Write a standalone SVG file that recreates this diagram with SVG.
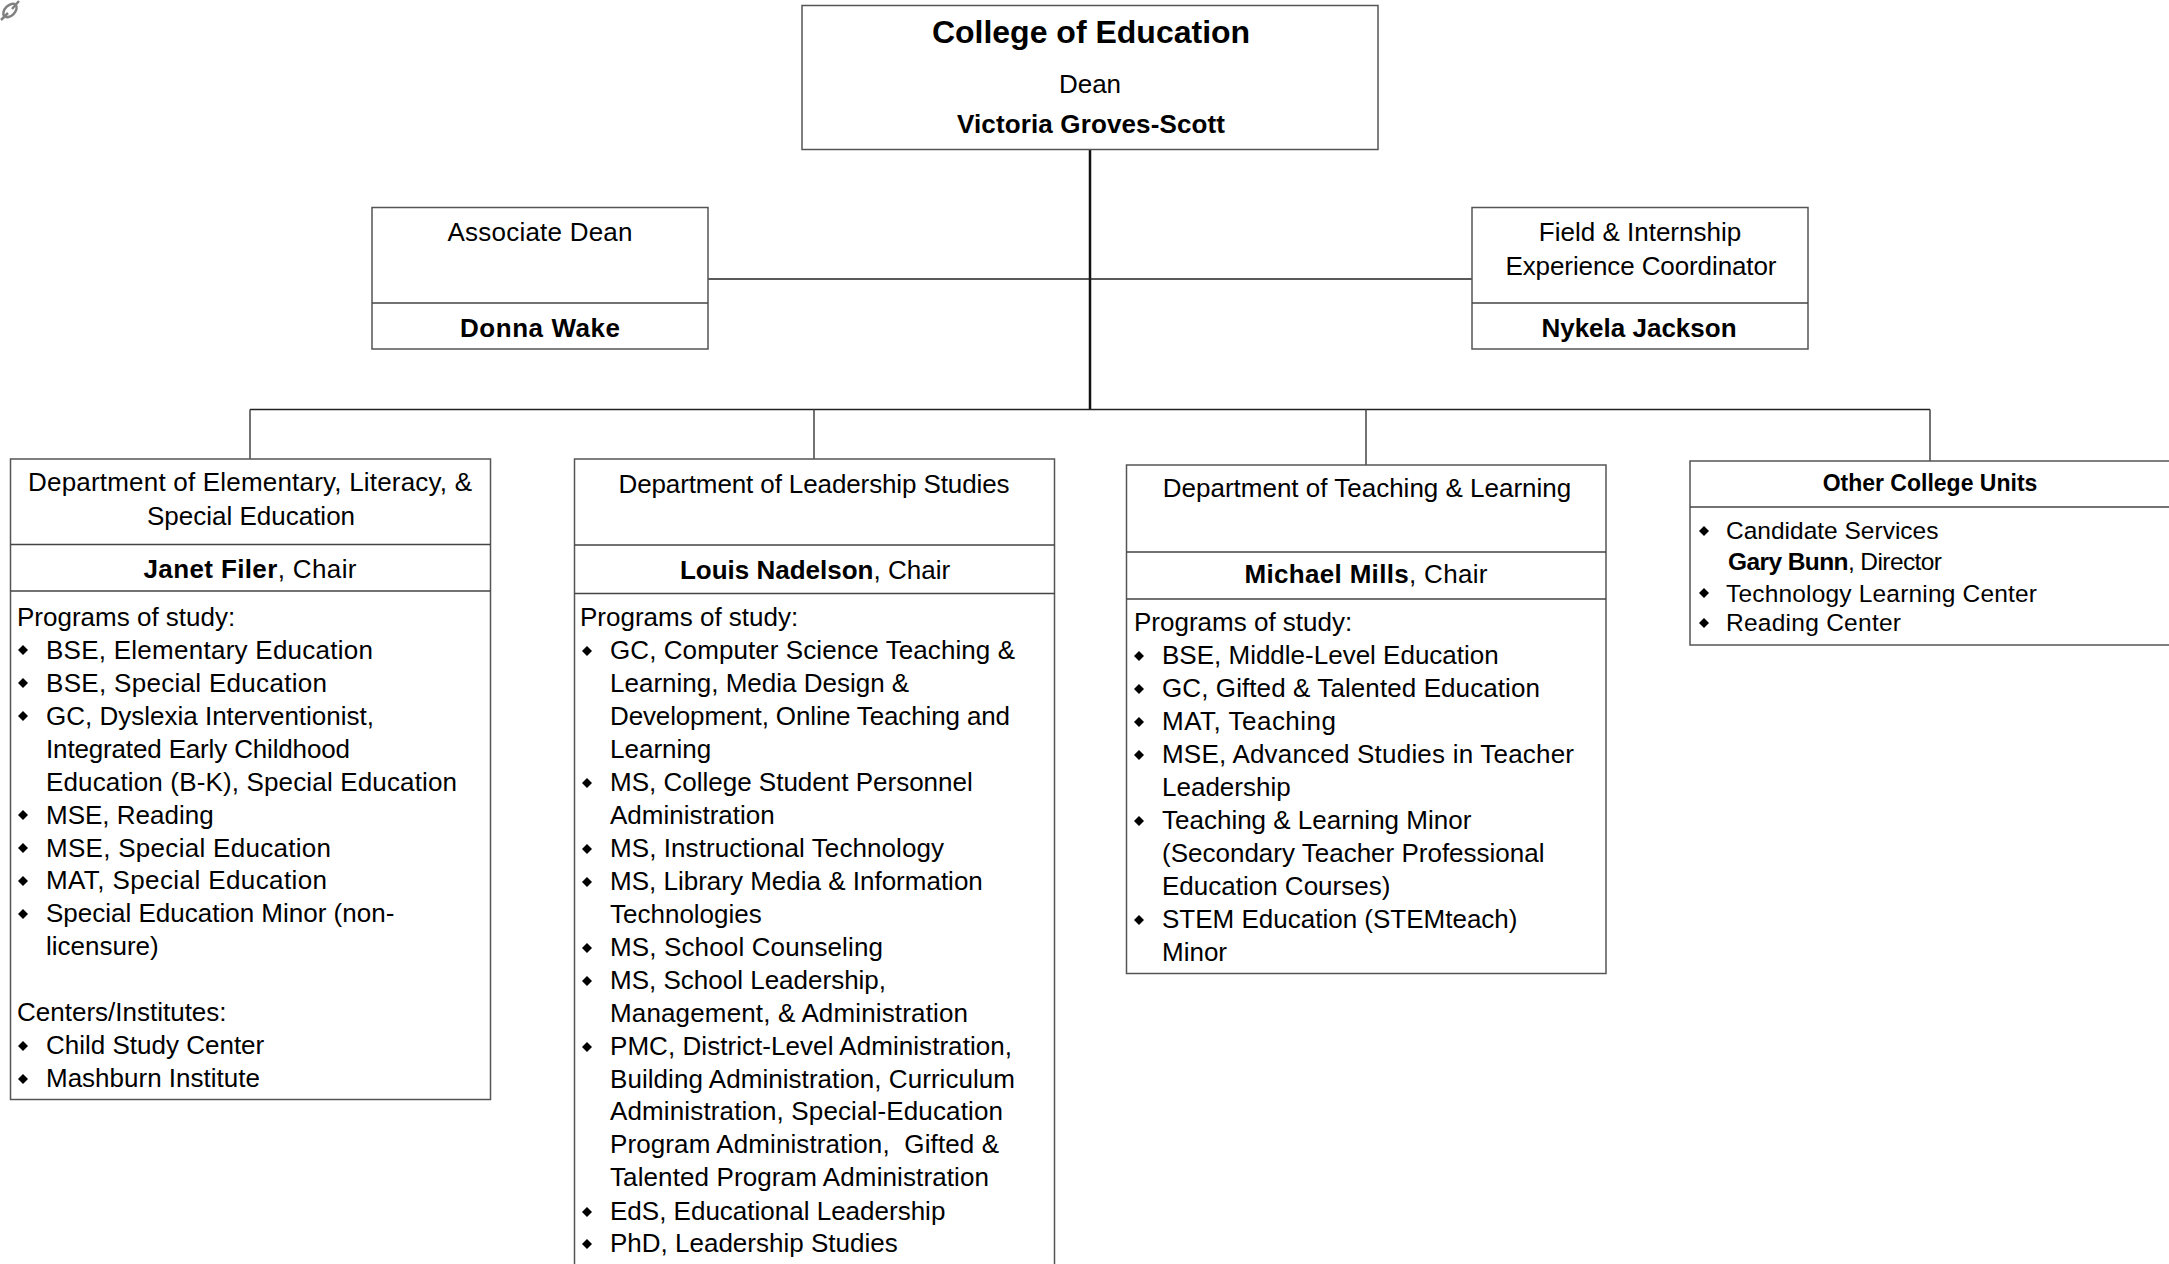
<svg xmlns="http://www.w3.org/2000/svg" width="2169" height="1264" viewBox="0 0 2169 1264">
<style>
text{font-family:"Liberation Sans",Arial,sans-serif;font-size:26px;fill:#000;white-space:pre}
.c{text-anchor:middle}
.b,tspan.b{font-weight:700}
.box{fill:#fff;stroke:#555;stroke-width:1.5}
.div{stroke:#444;stroke-width:1.5;fill:none}
.s{font-size:24.5px}
.conn{stroke:#444;stroke-width:1.5;fill:none}
.main{stroke:#111;stroke-width:2.5;fill:none}
.thin{stroke:#222;stroke-width:1.5;fill:none}
.icon{fill:none;stroke:#808080;stroke-width:2.5}
</style>
<defs><path id="d" d="M-5 0L0-5L5 0L0 5Z" fill="#000"/></defs>
<g id="link-icon"><path class="icon" d="M1 20L8 13M12 9L19 1"/><ellipse class="icon" cx="10" cy="10.500" rx="8" ry="5" transform="rotate(-45 10 10.500)"/></g>
<g id="connectors">
<path class="main" d="M1090 149V409"/>
<path class="thin" d="M708 279H1472"/>
<path class="thin" d="M250 409.500H1930"/>
<path class="conn" d="M250 409.500V459M814 409.500V459M1366 409.500V465M1930 409.500V461"/>
</g>
<g id="dean">
<rect class="box" x="802" y="5.500" width="576" height="144"/>
<text class="c b" x="1091" y="43" style="font-size:32px">College of Education</text>
<text class="c" x="1090" y="93">Dean</text>
<text class="c b" x="1091" y="133" textLength="268">Victoria Groves-Scott</text>
</g>
<g id="associate-dean">
<rect class="box" x="372" y="207.500" width="336" height="141.500"/>
<path class="div" d="M372 303H708"/>
<text class="c" x="540" y="241" textLength="185">Associate Dean</text>
<text class="c b" x="540" y="337" textLength="160">Donna Wake</text>
</g>
<g id="field-coordinator">
<rect class="box" x="1472" y="207.500" width="336" height="141.500"/>
<path class="div" d="M1472 303H1808"/>
<text class="c" x="1640" y="241">Field &amp; Internship</text>
<text class="c" x="1641" y="275" textLength="271">Experience Coordinator</text>
<text class="c b" x="1639" y="337">Nykela Jackson</text>
</g>
<g id="dept-elementary">
<rect class="box" x="10.500" y="459" width="480" height="640.500"/>
<path class="div" d="M10.500 544.500H490.500M10.500 591H490.500"/>
<text class="c" x="250" y="491" textLength="444">Department of Elementary, Literacy, &amp;</text>
<text class="c" x="251" y="525">Special Education</text>
<text class="c" x="250" y="578" textLength="213"><tspan class="b">Janet Filer</tspan>, Chair</text>
<text x="17" y="626">Programs of study:</text>
<use href="#d" x="23" y="650"/><text x="46" y="659" textLength="327">BSE, Elementary Education</text>
<use href="#d" x="23" y="683"/><text x="46" y="692" textLength="281">BSE, Special Education</text>
<use href="#d" x="23" y="716"/><text x="46" y="725">GC, Dyslexia Interventionist,</text>
<text x="46" y="758" textLength="304">Integrated Early Childhood</text>
<text x="46" y="791" textLength="411">Education (B-K), Special Education</text>
<use href="#d" x="23" y="815"/><text x="46" y="824">MSE, Reading</text>
<use href="#d" x="23" y="848"/><text x="46" y="857" textLength="285">MSE, Special Education</text>
<use href="#d" x="23" y="881"/><text x="46" y="889" textLength="281">MAT, Special Education</text>
<use href="#d" x="23" y="914"/><text x="46" y="922">Special Education Minor (non-</text>
<text x="46" y="955">licensure)</text>
<text x="17" y="1021">Centers/Institutes:</text>
<use href="#d" x="23" y="1046"/><text x="46" y="1054">Child Study Center</text>
<use href="#d" x="23" y="1079"/><text x="46" y="1087">Mashburn Institute</text>
</g>
<g id="dept-leadership">
<rect class="box" x="574.500" y="459" width="480" height="820"/>
<path class="div" d="M574.500 545H1054.500M574.500 593.500H1054.500"/>
<text class="c" x="814" y="493" textLength="391">Department of Leadership Studies</text>
<text class="c" x="815" y="579"><tspan class="b">Louis Nadelson</tspan>, Chair</text>
<text x="580" y="626">Programs of study:</text>
<use href="#d" x="587" y="651"/><text x="610" y="659" textLength="405">GC, Computer Science Teaching &amp;</text>
<text x="610" y="692">Learning, Media Design &amp;</text>
<text x="610" y="725" textLength="400">Development, Online Teaching and</text>
<text x="610" y="758">Learning</text>
<use href="#d" x="587" y="783"/><text x="610" y="791">MS, College Student Personnel</text>
<text x="610" y="824">Administration</text>
<use href="#d" x="587" y="849"/><text x="610" y="857" textLength="334">MS, Instructional Technology</text>
<use href="#d" x="587" y="882"/><text x="610" y="890">MS, Library Media &amp; Information</text>
<text x="610" y="923">Technologies</text>
<use href="#d" x="587" y="948"/><text x="610" y="956" textLength="273">MS, School Counseling</text>
<use href="#d" x="587" y="981"/><text x="610" y="989">MS, School Leadership,</text>
<text x="610" y="1022" textLength="358">Management, &amp; Administration</text>
<use href="#d" x="587" y="1047"/><text x="610" y="1055" textLength="402">PMC, District-Level Administration,</text>
<text x="610" y="1088" textLength="405">Building Administration, Curriculum</text>
<text x="610" y="1120" textLength="393">Administration, Special-Education</text>
<text x="610" y="1153" textLength="389">Program Administration,  Gifted &amp;</text>
<text x="610" y="1186" textLength="379">Talented Program Administration</text>
<use href="#d" x="587" y="1212"/><text x="610" y="1220">EdS, Educational Leadership</text>
<use href="#d" x="587" y="1244"/><text x="610" y="1252">PhD, Leadership Studies</text>
</g>
<g id="dept-teaching">
<rect class="box" x="1126.500" y="465" width="479.500" height="508.500"/>
<path class="div" d="M1126.500 552H1606M1126.500 599H1606"/>
<text class="c" x="1367" y="497">Department of Teaching &amp; Learning</text>
<text class="c" x="1366" y="583" textLength="243"><tspan class="b">Michael Mills</tspan>, Chair</text>
<text x="1134" y="631">Programs of study:</text>
<use href="#d" x="1139" y="656"/><text x="1162" y="664">BSE, Middle-Level Education</text>
<use href="#d" x="1139" y="689"/><text x="1162" y="697" textLength="378">GC, Gifted &amp; Talented Education</text>
<use href="#d" x="1139" y="722"/><text x="1162" y="730" textLength="174">MAT, Teaching</text>
<use href="#d" x="1139" y="755"/><text x="1162" y="763" textLength="412">MSE, Advanced Studies in Teacher</text>
<text x="1162" y="796">Leadership</text>
<use href="#d" x="1139" y="821"/><text x="1162" y="829">Teaching &amp; Learning Minor</text>
<text x="1162" y="862">(Secondary Teacher Professional</text>
<text x="1162" y="895">Education Courses)</text>
<use href="#d" x="1139" y="920"/><text x="1162" y="928">STEM Education (STEMteach)</text>
<text x="1162" y="961">Minor</text>
</g>
<g id="other-units">
<rect class="box" x="1690" y="461" width="500" height="184"/>
<path class="div" d="M1690 507H2169"/>
<text class="c b" x="1930" y="491" style="font-size:23px">Other College Units</text>
<use href="#d" x="1704" y="531"/><text class="s" x="1726" y="539">Candidate Services</text>
<text class="s" x="1728" y="569.500" textLength="214"><tspan class="b">Gary Bunn</tspan>, Director</text>
<use href="#d" x="1704" y="593"/><text class="s" x="1726" y="601.500" textLength="311">Technology Learning Center</text>
<use href="#d" x="1704" y="623"/><text class="s" x="1726" y="631" textLength="175">Reading Center</text>
</g>
</svg>
